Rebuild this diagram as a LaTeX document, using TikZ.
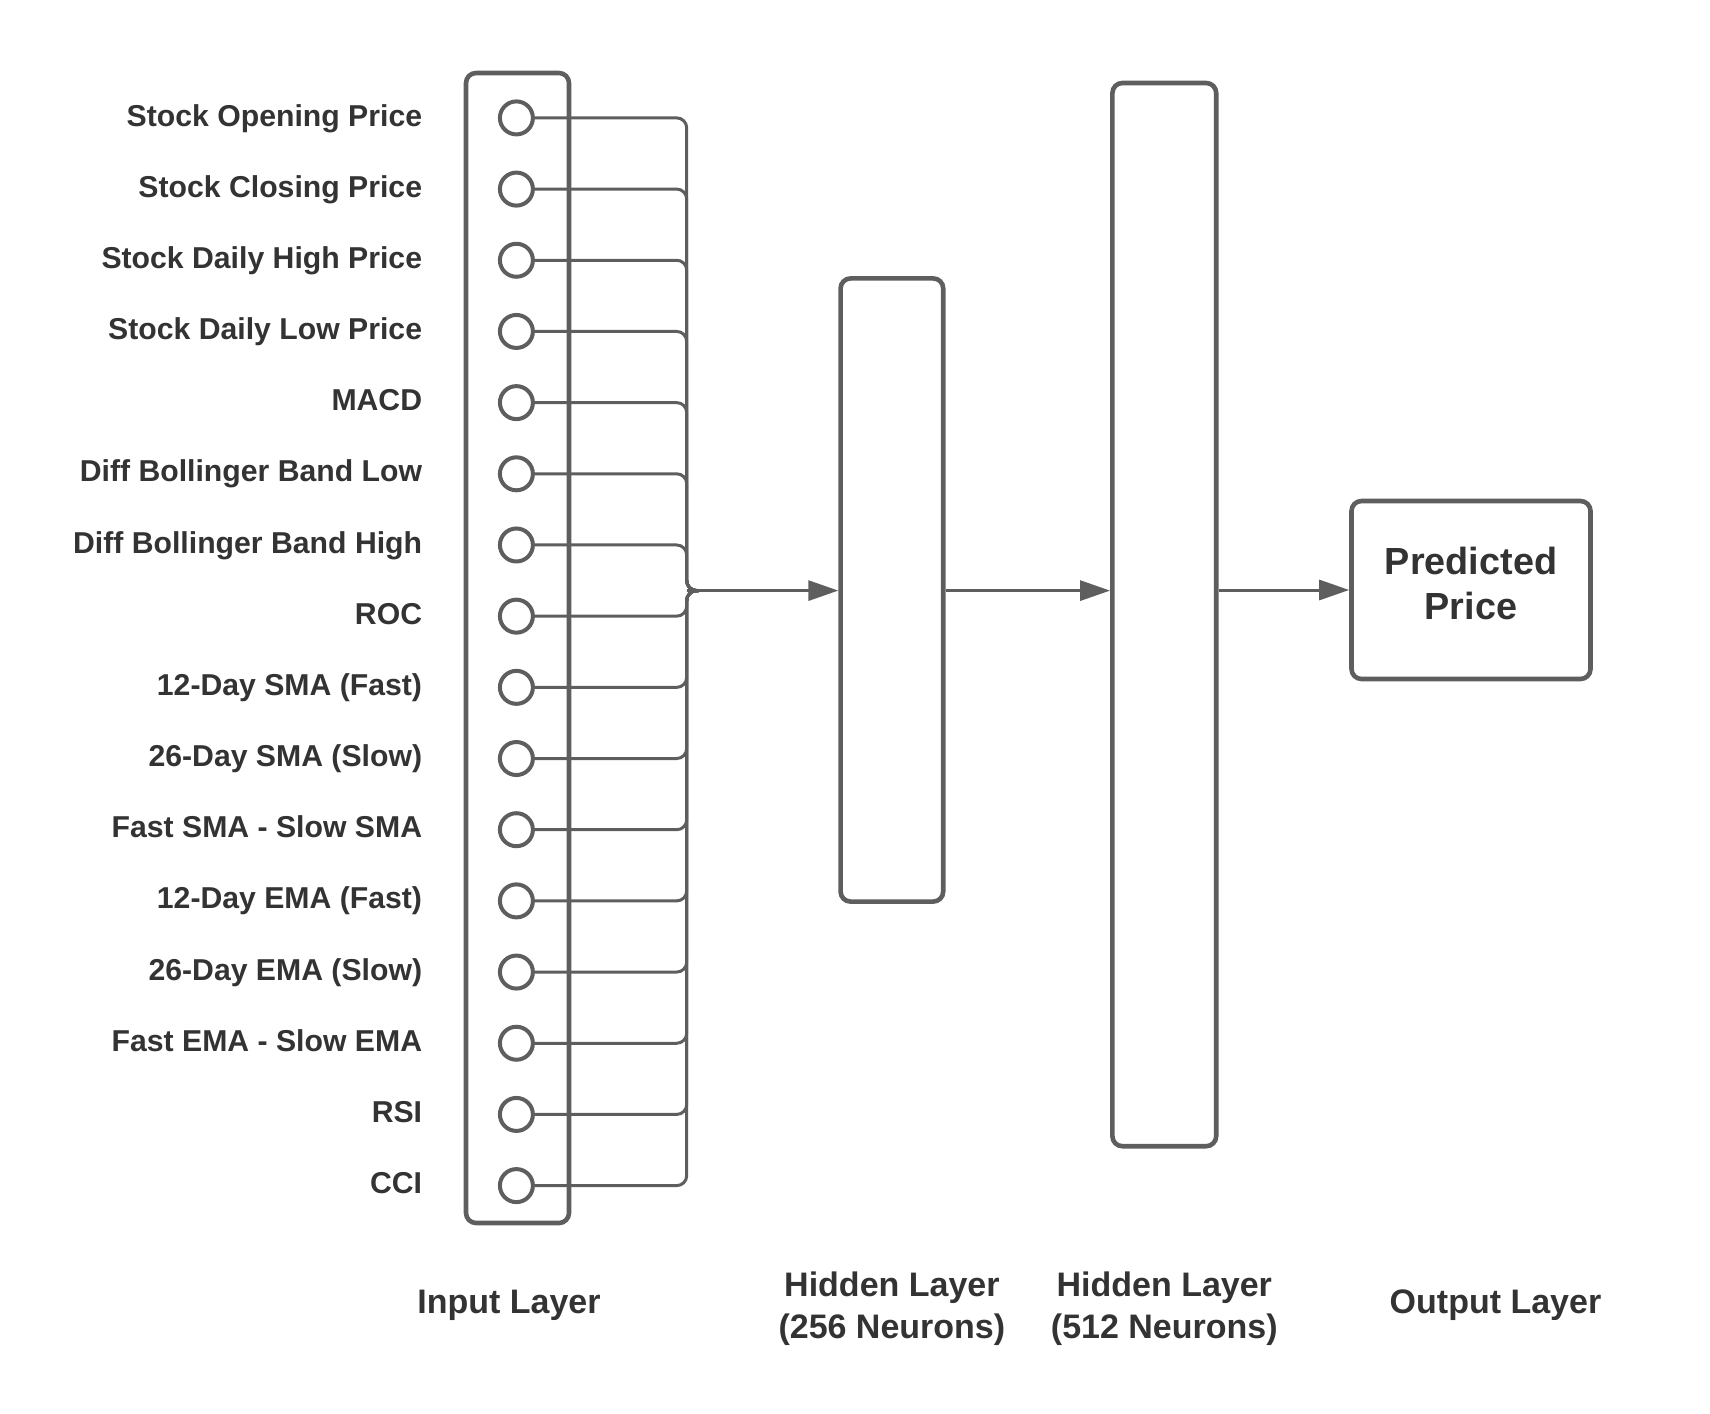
\documentclass[tikz,border=0pt]{standalone}
\usepackage{fontspec}
\setmainfont{Liberation Sans}
\usetikzlibrary{arrows.meta,calc}
\definecolor{linegray}{HTML}{5E5E5E}
\definecolor{textgray}{HTML}{333333}
\begin{document}
\begin{tikzpicture}[x=0.5pt,y=-0.5pt,
  layerbox/.style={draw=linegray, line width=2.3pt, rounded corners=5pt, inner sep=0pt},
  neuron/.style={circle, draw=linegray, line width=2pt, minimum size=16.5pt, inner sep=0pt, fill=white},
  feat/.style={anchor=base east, text=textgray, font=\fontsize{15.1}{18}\selectfont\bfseries, inner sep=0pt},
  caption/.style={text=textgray, font=\fontsize{17}{21}\selectfont\bfseries, align=center, inner sep=0pt},
  conn/.style={draw=linegray, line width=1.5pt, rounded corners=5pt},
  arr/.style={conn, -{Triangle[length=15pt,width=10pt]}}
]
\useasboundingbox (0,0) rectangle (1710,1414);

% input layer box
\node[layerbox, minimum width=51.5pt, minimum height=575pt] (inbox) at (517.5,648) {};

% neurons and labels
\foreach \t [count=\i] in {Stock Opening Price, Stock Closing Price, Stock Daily High Price, Stock Daily Low Price, MACD, Diff Bollinger Band Low, Diff Bollinger Band High, ROC, 12-Day SMA (Fast), 26-Day SMA (Slow), Fast SMA - Slow SMA, 12-Day EMA (Fast), 26-Day EMA (Slow), Fast EMA - Slow EMA, RSI, CCI}{
  \node[neuron] (c\i) at (516.4,{117.9+71.18*(\i-1)}) {};
  \node[feat] (l\i) at (422.5,{126+71.18*(\i-1)}) {\t};
}

% hidden layers and output
\node[layerbox, minimum width=51.3pt, minimum height=311.6pt] (h1) at (891.9,590) {};
\node[layerbox, minimum width=51.9pt, minimum height=531.6pt] (h2) at (1164.3,614.6) {};
\node[layerbox, minimum width=119.5pt, minimum height=89pt] (out) at (1471,590) {};
\node[text=textgray, font=\fontsize{18.9}{22.5}\selectfont\bfseries, align=center, inner sep=0pt]
      (outtxt) at ($(out.center)+(0,-6.5)$) {Predicted\\Price};

% bus junction
\coordinate (J) at (686.7,590.6);
\coordinate (Jr) at ($(J)+(12,0)$);
\foreach \i in {1,...,16}{
  \draw[conn] (c\i.east) -| (J) -- (Jr);
}
\draw[arr] (J) -- (J -| h1.west);
\draw[arr] (h1.east |- J) -- (h2.west |- J);
\draw[arr] (h2.east |- out.west) -- (out.west);

% captions
\node[caption, anchor=base] (capin) at (509,1313.5) {Input Layer};
\node[caption, anchor=center] (caph1) at (891.9,1309) {Hidden Layer\\(256 Neurons)};
\node[caption, anchor=center] (caph2) at (1164.3,1309) {Hidden Layer\\(512 Neurons)};
\node[caption, anchor=base] (capout) at (1495.5,1313.5) {Output Layer};
\end{tikzpicture}
\end{document}
